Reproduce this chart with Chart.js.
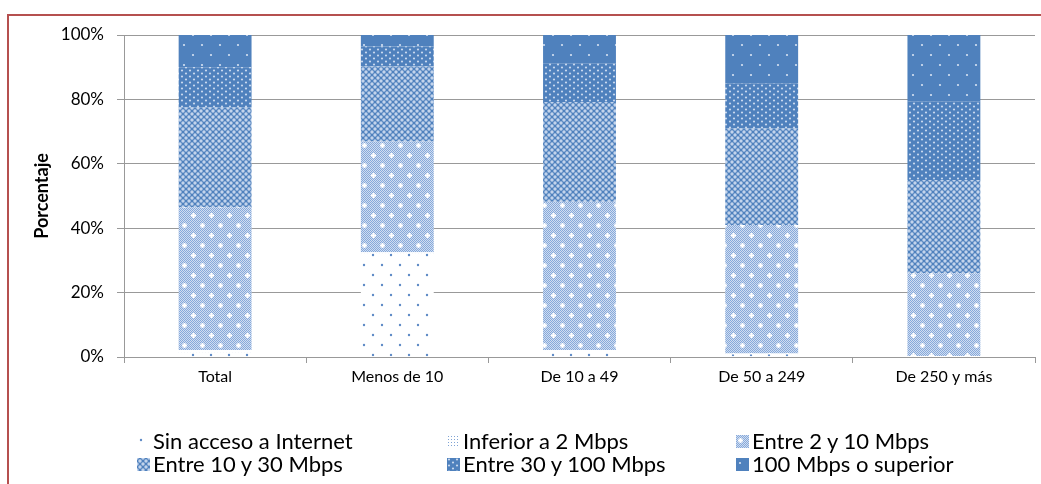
<!DOCTYPE html>
<html>
<head>
<meta charset="utf-8">
<script src="https://cdn.jsdelivr.net/npm/chart.js@4.4.1/dist/chart.umd.min.js"></script>
<style>
  html, body { margin: 0; padding: 0; background: #fff; }
  #wrap { position: relative; width: 1041px; height: 484px; overflow: hidden; font-family: Lato, "Open Sans", sans-serif; }
  #frame { position: absolute; left: 7px; top: 14px; width: 1100px; height: 600px; border-left: 2px solid #b5504f; border-top: 2px solid #b5504f; }
  #chart { position: absolute; left: 0; top: 0; }
  .leg { position: absolute; font-size: 22px; color: #000; white-space: nowrap; line-height: 24px; }
  .leg canvas { position: absolute; left: 0; top: 6px; }
  .leg span { position: absolute; left: 16px; top: 0; }
</style>
</head>
<body>
<div id="wrap">
  <div id="frame"></div>
  <canvas id="chart" width="1041" height="484"></canvas>
  <div id="legend"></div>
</div>
<script>
const categories = ['Total', 'Menos de 10', 'De 10 a 49', 'De 50 a 249', 'De 250 y más'];
const seriesNames = ['Sin acceso a Internet', 'Inferior a 2 Mbps', 'Entre 2 y 10 Mbps',
                     'Entre 10 y 30 Mbps', 'Entre 30 y 100 Mbps', '100 Mbps o superior'];
const sinAcceso   = [1.5, 32.2, 1.8, 0.8, 0.2];
const inferior2   = [0.7, 0.3, 0.4, 0.3, 0.1];
const entre2y10   = [44.3, 34.4, 46.0, 39.9, 25.7];
const entre10y30  = [31.0, 23.3, 31.0, 30.0, 29.0];
const entre30y100 = [12.5, 6.2, 12.0, 14.0, 24.3];
const mas100      = [10.0, 3.6, 8.8, 15.0, 20.7];
const yTicks = [0, 20, 40, 60, 80, 100];

const BLUE = '#4f81bd';

// small repeating tiles used as bar fills
function makeTile(w, h, draw) {
  const c = document.createElement('canvas');
  c.width = w; c.height = h;
  const g = c.getContext('2d');
  draw(g, w, h);
  return c;
}
function dot(g, x, y, r, col) {
  g.fillStyle = col;
  g.beginPath(); g.arc(x, y, r, 0, Math.PI * 2); g.fill();
}
function cross(g, x, y, col) {
  g.fillStyle = col;
  g.fillRect(x - 2, y - 0.5, 5, 2);
  g.fillRect(x - 0.5, y - 2, 2, 5);
}
function checker(g, w, h, a, b) {
  for (let y = 0; y < h; y++)
    for (let x = 0; x < w; x++) {
      g.fillStyle = ((x + y) % 2 === 0) ? a : b;
      g.fillRect(x, y, 1, 1);
    }
}

const tiles = [
  // sin acceso: white with sparse blue dots
  makeTile(18, 20, (g) => {
    g.fillStyle = '#fff'; g.fillRect(0, 0, 18, 20);
    dot(g, 4, 5, 1.2, '#5f8bc6'); dot(g, 13, 15, 1.2, '#5f8bc6');
  }),
  // inferior a 2: fine blue dot grid
  makeTile(3, 3, (g) => {
    g.fillStyle = '#fff'; g.fillRect(0, 0, 3, 3);
    g.fillStyle = '#7fa3d4'; g.fillRect(1, 1, 1, 1);
  }),
  // 2 a 10: light checker with white crosses
  makeTile(18, 20, (g, w, h) => {
    checker(g, w, h, '#86a9da', '#d0ddf1');
    cross(g, 4, 5, '#ffffff'); cross(g, 13, 15, '#ffffff');
  }),
  // 10 a 30: diamond lattice
  makeTile(6, 6, (g) => {
    g.fillStyle = '#4f81bd'; g.fillRect(0, 0, 6, 6);
    dot(g, 0, 0, 1.7, '#c3d4ec'); dot(g, 6, 0, 1.7, '#c3d4ec');
    dot(g, 0, 6, 1.7, '#c3d4ec'); dot(g, 6, 6, 1.7, '#c3d4ec');
    dot(g, 3, 3, 1.7, '#c3d4ec');
  }),
  // 30 a 100: blue with dense light dots
  makeTile(8, 6, (g) => {
    g.fillStyle = BLUE; g.fillRect(0, 0, 8, 6);
    dot(g, 2, 1.5, 1.1, '#c9d8ee'); dot(g, 6, 4.5, 1.1, '#c9d8ee');
  }),
  // 100 o superior: solid blue with sparse dots
  makeTile(18, 20, (g) => {
    g.fillStyle = BLUE; g.fillRect(0, 0, 18, 20);
    dot(g, 4, 5, 1.1, '#d5e1f2'); dot(g, 13, 15, 1.1, '#d5e1f2');
  })
];
const ctxMain = document.getElementById('chart').getContext('2d');
const fills = tiles.map(t => ctxMain.createPattern(t, 'repeat'));

const seriesData = [sinAcceso, inferior2, entre2y10, entre10y30, entre30y100, mas100];

new Chart(ctxMain, {
  type: 'bar',
  data: {
    labels: categories,
    datasets: seriesNames.map((name, i) => ({
      label: name,
      data: seriesData[i],
      backgroundColor: fills[i],
      borderWidth: 0,
      barPercentage: 0.4,
      categoryPercentage: 1
    }))
  },
  options: {
    responsive: false,
    animation: false,
    layout: { padding: { left: 0, right: 6, top: 35, bottom: 87 } },
    scales: {
      x: {
        stacked: true,
        grid: { drawOnChartArea: false, offset: true, tickLength: 6, color: '#999' },
        border: { color: '#999' },
        ticks: { color: '#000', font: { family: 'Lato', size: 16 }, padding: 4 },
        afterFit: s => { s.height = 40; }
      },
      y: {
        stacked: true,
        min: 0, max: 100,
        afterBuildTicks: s => { s.ticks = yTicks.map(v => ({ value: v })); },
        grid: { color: '#999', tickLength: 7 },
        border: { color: '#999' },
        ticks: { color: '#000', font: { family: 'Lato', size: 17 }, padding: 13, callback: v => v + '%' },
        title: { display: true, text: 'Porcentaje', color: '#000', font: { family: 'Lato', size: 18, weight: 'bold' }, padding: { top: 31, bottom: 0 } },
        afterFit: s => { s.width = 124; }
      }
    },
    plugins: {
      legend: { display: false },
      tooltip: { enabled: false }
    }
  }
});

// legend in three columns, two rows
const legendPos = [[137, 429], [447, 429], [736, 429], [137, 452], [447, 452], [736, 452]];
const legend = document.getElementById('legend');
seriesNames.forEach((name, i) => {
  const item = document.createElement('div');
  item.className = 'leg';
  item.style.left = legendPos[i][0] + 'px';
  item.style.top = legendPos[i][1] + 'px';
  const ic = document.createElement('canvas');
  ic.width = 13; ic.height = 13;
  const g = ic.getContext('2d');
  g.fillStyle = g.createPattern(tiles[i], 'repeat');
  g.fillRect(0, 0, 13, 13);
  const tx = document.createElement('span');
  tx.textContent = name;
  item.appendChild(ic);
  item.appendChild(tx);
  legend.appendChild(item);
});
</script>
</body>
</html>
